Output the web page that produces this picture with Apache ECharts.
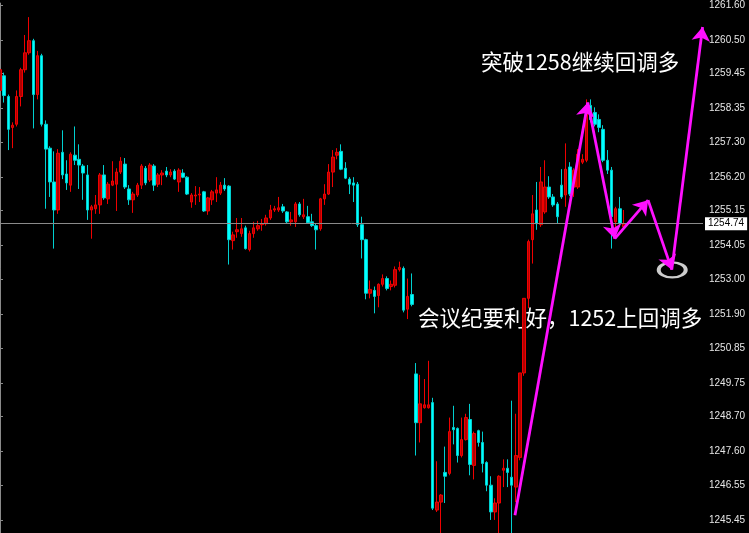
<!DOCTYPE html>
<html>
<head>
<meta charset="utf-8">
<script src="https://cdn.jsdelivr.net/npm/echarts@6/dist/echarts.min.js"></script>
<style>html,body{margin:0;padding:0;background:#000;}#c{width:749px;height:533px;}</style>
</head>
<body>
<div id="c"></div>
<script>
// ---- data ----
const opens = [1258.92,1259.38,1258.73,1257.76,1257.86,1258.73,1259.57,1260.10,1260.48,1258.79,
1260.01,1257.86,1257.11,1256.05,1255.17,1256.98,1256.30,1255.95,1256.89,1256.76,
1256.55,1256.27,1255.17,1255.21,1255.33,1256.27,1255.52,1255.95,1255.98,1256.36,
1256.61,1255.83,1255.49,1255.64,1255.95,1256.48,1256.11,1256.55,1255.98,1256.27,
1256.39,1256.27,1256.39,1256.05,1256.33,1256.20,1255.42,1255.61,1255.64,1255.74,
1255.14,1255.49,1255.70,1255.70,1255.95,1255.92,1254.21,1254.49,1254.43,1254.61,
1253.93,1254.43,1254.58,1254.71,1254.74,1254.92,1255.17,1255.17,1255.27,1255.11,
1254.80,1254.80,1255.36,1254.96,1254.96,1254.80,1254.68,1254.58,1255.52,1255.67,
1256.36,1256.89,1257.01,1256.48,1256.14,1256.02,1255.98,1254.71,1254.24,1252.56,
1252.65,1252.49,1252.84,1253.02,1252.77,1252.81,1253.30,1253.34,1252.06,1252.52,
1250.03,1248.50,1248.97,1248.97,1249.13,1245.76,1246.01,1246.94,1246.91,1248.35,
1248.32,1247.47,1247.97,1248.60,1247.16,1248.25,1247.88,1247.25,1246.54,1245.70,
1245.98,1247.01,1247.07,1246.79,1246.48,1247.41,1250.06,1252.40,1254.24,1255.17,
1254.71,1255.11,1255.89,1255.58,1255.36,1255.95,1255.64,1256.52,1255.89,1255.89,
1256.67,1256.73,1258.45,1258.23,1258.01,1257.70,1256.73,1256.42,1254.80,1255.21,
1254.64];
const closes = [1259.57,1258.76,1257.70,1257.83,1258.73,1259.57,1260.10,1260.48,1258.79,1260.01,
1257.86,1257.08,1256.05,1255.17,1256.95,1256.27,1256.02,1256.92,1256.73,1256.58,
1256.33,1255.17,1255.27,1255.33,1256.27,1255.55,1255.98,1256.08,1256.36,1256.70,
1255.89,1255.49,1255.67,1255.95,1256.55,1256.02,1256.58,1255.95,1256.27,1256.33,
1256.27,1256.36,1256.14,1256.42,1256.20,1255.67,1255.64,1255.64,1255.67,1255.14,
1255.55,1255.74,1255.80,1255.95,1255.83,1254.24,1254.39,1254.55,1254.58,1253.96,
1254.43,1254.61,1254.68,1254.74,1254.92,1255.17,1255.21,1255.24,1255.14,1254.80,
1254.86,1255.36,1255.02,1255.02,1254.77,1254.68,1254.55,1255.52,1255.67,1256.36,
1256.83,1256.98,1256.45,1256.17,1255.98,1255.95,1254.71,1254.24,1252.56,1252.68,
1252.46,1252.84,1253.02,1252.71,1252.84,1253.30,1253.37,1252.03,1252.46,1252.21,
1248.50,1249.09,1249.06,1249.06,1245.82,1246.01,1246.23,1246.82,1248.22,1248.28,
1247.47,1247.97,1248.66,1247.19,1248.16,1247.88,1247.22,1246.54,1245.70,1245.98,
1246.82,1247.07,1246.94,1246.54,1247.47,1250.06,1252.40,1254.18,1255.05,1254.74,
1256.05,1255.89,1255.58,1255.33,1254.96,1255.58,1256.45,1255.67,1256.42,1256.92,
1256.76,1258.45,1258.01,1257.86,1257.76,1256.73,1256.42,1254.96,1255.21,1254.74,
1254.74];
const lows = [1258.85,1258.54,1257.05,1257.11,1257.79,1258.42,1259.48,1260.04,1257.73,1258.64,
1257.79,1255.21,1255.58,1253.96,1255.05,1256.14,1255.80,1255.74,1256.58,1255.83,
1255.49,1254.86,1254.27,1255.05,1255.05,1255.49,1255.36,1255.92,1255.14,1256.30,
1255.83,1255.33,1255.08,1255.58,1255.83,1255.95,1256.05,1255.77,1255.89,1255.95,
1256.20,1256.20,1256.11,1255.74,1256.17,1255.64,1255.24,1255.33,1255.42,1255.11,
1255.02,1255.33,1255.42,1255.64,1255.77,1253.46,1253.93,1254.30,1254.33,1253.93,
1253.87,1254.30,1254.52,1254.52,1254.68,1254.86,1255.11,1255.11,1255.08,1254.74,
1254.68,1254.64,1254.96,1254.89,1254.74,1254.64,1253.93,1254.52,1255.33,1255.64,
1255.89,1256.76,1256.42,1256.14,1255.67,1255.42,1254.64,1253.65,1252.37,1252.40,
1251.93,1252.12,1252.77,1252.65,1252.65,1252.74,1253.24,1251.96,1251.75,1252.15,
1247.47,1247.88,1248.94,1248.94,1245.76,1245.70,1244.82,1245.98,1246.85,1247.82,
1247.25,1247.41,1247.94,1246.85,1246.72,1247.75,1246.94,1246.35,1245.45,1245.45,
1244.82,1246.48,1246.48,1244.67,1246.01,1247.32,1249.97,1252.09,1253.49,1254.55,
1254.64,1255.05,1255.52,1255.27,1254.74,1255.52,1255.27,1255.61,1255.58,1255.83,
1256.61,1256.67,1257.92,1257.79,1257.61,1256.67,1256.30,1253.96,1254.64,1254.64,
1254.58];
const highs = [1259.79,1259.48,1258.79,1257.92,1258.92,1259.63,1260.66,1261.22,1260.54,1260.16,
1260.07,1257.98,1257.17,1257.01,1257.08,1257.67,1256.73,1256.98,1257.79,1257.23,
1256.61,1256.58,1255.33,1255.64,1256.33,1256.58,1256.05,1256.70,1256.48,1256.83,
1256.80,1255.95,1255.74,1256.02,1256.61,1256.55,1256.64,1256.61,1256.33,1256.42,
1256.52,1256.45,1256.45,1256.48,1256.45,1256.23,1255.70,1255.92,1255.89,1255.77,
1255.58,1255.80,1256.20,1256.05,1256.17,1255.95,1254.49,1254.92,1254.92,1254.68,
1254.52,1254.80,1254.83,1254.89,1255.02,1255.33,1255.30,1255.58,1255.36,1255.14,
1255.11,1255.42,1255.42,1255.52,1255.30,1255.05,1254.74,1255.55,1255.98,1256.61,
1257.05,1257.11,1257.23,1256.67,1256.20,1256.20,1256.05,1254.96,1254.27,1252.96,
1252.77,1252.87,1253.15,1253.09,1252.96,1253.40,1253.55,1253.40,1253.02,1253.18,
1250.37,1250.00,1249.87,1250.44,1249.28,1247.29,1246.26,1247.75,1248.66,1249.03,
1248.35,1248.66,1248.78,1249.09,1248.22,1248.28,1248.22,1247.29,1246.82,1246.13,
1246.85,1247.35,1247.35,1249.19,1248.78,1250.06,1252.40,1254.24,1255.64,1256.05,
1256.52,1256.73,1256.23,1255.67,1255.42,1256.45,1257.26,1256.67,1256.48,1257.08,
1256.92,1258.64,1258.64,1258.39,1258.17,1257.83,1257.05,1256.52,1255.27,1255.58,
1255.17];

const currentPrice = 1254.74;
const priceTicks = [1245.45,1246.55,1247.60,1248.70,1249.75,1250.85,1251.90,1253.00,
  1254.05,1255.15,1256.20,1257.30,1258.35,1259.45,1260.50,1261.60];
const slotCount = 170;  // bar slots on the time axis (incl. empty right margin)

// hand-drawn magenta arrow path: [bar position, price]
const arrowPath = [[123.8,1245.60],[141.3,1258.54],[147.8,1254.27],[155.8,1255.48],[161.5,1253.30],[168.9,1260.91]];
const circleMark = [161.6,1253.29];

const noteTop = '突破1258继续回调多';
const noteBottom = '会议纪要利好，1252上回调多';

// ---- build ----
const categories = Array.from({length: slotCount}, (_, i) => String(i));
const candleData = opens.map((o, i) => [o, closes[i], lows[i], highs[i]]);
const arrowSegments = [];
for (let i = 0; i < arrowPath.length - 1; i++) {
  arrowSegments.push([{coord: arrowPath[i]}, {coord: arrowPath[i + 1]}]);
}

const chart = echarts.init(document.getElementById('c'), null, {renderer: 'canvas'});
chart.setOption({
  backgroundColor: '#000',
  animation: false,
  grid: {left: 0, right: 46, top: 0, bottom: 0, containLabel: false},
  xAxis: [
    {type: 'category', data: categories, boundaryGap: false, show: false},
    {type: 'value', min: 0, max: slotCount - 1, show: false}
  ],
  yAxis: {
    type: 'value', position: 'right', min: 1245.04, max: 1261.66, scale: true,
    splitLine: {show: false},
    axisLine: {show: true, lineStyle: {color: '#8a8a8a', width: 1}},
    axisTick: {show: true, length: 3, inside: false, customValues: priceTicks, lineStyle: {color: '#8a8a8a'}},
    axisLabel: {
      show: true, customValues: priceTicks, margin: 6,
      color: '#e6e6e6', fontFamily: 'Liberation Sans', fontSize: 10,
      formatter: v => v.toFixed(2)
    }
  },
  series: [
    {
      type: 'candlestick', xAxisIndex: 0, yAxisIndex: 0,
      data: candleData, barWidth: 3,
      itemStyle: {color: '#b00000', borderColor: '#f00000', color0: '#00ffff', borderColor0: '#00d0d0', borderWidth: 1},
      markLine: {
        silent: true, symbol: 'none', animation: false,
        data: [{yAxis: currentPrice}],
        lineStyle: {color: '#8a8a8a', width: 1, type: 'solid'},
        label: {
          show: true, position: 'end', distance: 2,
          formatter: () => currentPrice.toFixed(2),
          backgroundColor: '#ffffff', color: '#000000',
          fontFamily: 'Liberation Sans', fontSize: 10, padding: [2, 3, 1, 3]
        }
      }
    },
    {
      type: 'line', xAxisIndex: 1, yAxisIndex: 0, data: [], silent: true,
      markLine: {
        silent: true, animation: false,
        symbol: ['none', 'arrow'], symbolSize: 14,
        data: arrowSegments,
        lineStyle: {color: '#ff10ff', width: 2.8, type: 'solid'},
        label: {show: false},
        emphasis: {disabled: true}
      }
    },
    {
      type: 'scatter', xAxisIndex: 1, yAxisIndex: 0, silent: true,
      data: [circleMark], symbol: 'circle', symbolSize: [27, 15],
      itemStyle: {color: 'rgba(0,0,0,0)', borderColor: '#ffffff', borderWidth: 3}
    }
  ],
  graphic: [
    {type: 'text', x: 481, y: 62, silent: true,
     style: {text: noteTop, fill: '#ffffff', font: '21.5px "Noto Sans CJK SC"', verticalAlign: 'middle', textVerticalAlign: 'middle'}},
    {type: 'text', x: 418, y: 318, silent: true,
     style: {text: noteBottom, fill: '#ffffff', font: '21.5px "Noto Sans CJK SC"', verticalAlign: 'middle', textVerticalAlign: 'middle'}}
  ]
});
</script>
</body>
</html>
